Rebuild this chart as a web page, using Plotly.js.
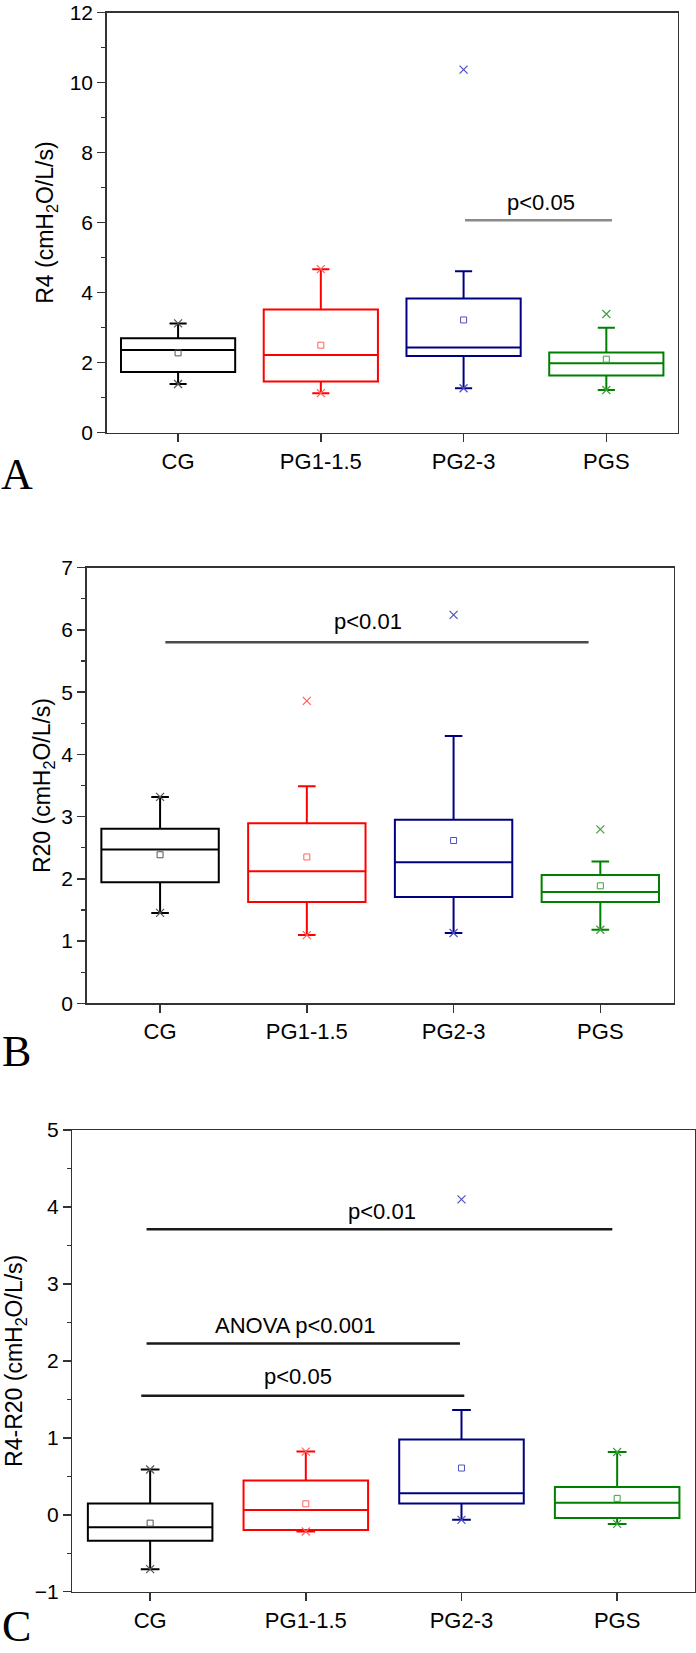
<!DOCTYPE html>
<html>
<head>
<meta charset="utf-8">
<script src="https://cdn.plot.ly/plotly-3.0.1.min.js"></script>
<style>
  html, body { margin: 0; padding: 0; background: #fff; }
  #chart { width: 696px; height: 1653px; }
</style>
</head>
<body>
<div id="chart"></div>
<script>
// ---------------- data ----------------
const categories = ['CG', 'PG1-1.5', 'PG2-3', 'PGS'];
const groupColors = ['#000000', '#ff0000', '#000080', '#008000'];

// Panel A: R4
const A_q1    = [1.73, 1.465, 2.19, 1.635];
const A_med   = [2.36, 2.22, 2.43, 1.98];
const A_q3    = [2.70, 3.52, 3.83, 2.29];
const A_mean  = [2.28, 2.50, 3.22, 2.10];
const A_lo    = [1.39, 1.13, 1.27, 1.22];
const A_hi    = [3.12, 4.67, 4.61, 3.00];
const A_min   = [1.39, 1.13, 1.27, 1.22];
const A_max   = [3.12, 4.67, 10.37, 3.39];

// Panel B: R20
const B_q1    = [1.945, 1.629, 1.710, 1.629];
const B_med   = [2.473, 2.123, 2.266, 1.790];
const B_q3    = [2.806, 2.892, 2.949, 2.060];
const B_mean  = [2.387, 2.352, 2.616, 1.888];
const B_lo    = [1.452, 1.096, 1.130, 1.182];
const B_hi    = [3.316, 3.488, 4.297, 2.278];
const B_min   = [1.452, 1.096, 1.130, 1.182];
const B_max   = [3.316, 4.86, 6.242, 2.794];

// Panel C: R4-R20
const C_q1    = [-0.337, -0.199, 0.147, -0.043];
const C_med   = [-0.161, 0.062, 0.280, 0.157];
const C_q3    = [0.147, 0.446, 0.977, 0.361];
const C_mean  = [-0.109, 0.142, 0.607, 0.213];
const C_lo    = [-0.707, -0.218, -0.066, -0.119];
const C_hi    = [0.588, 0.821, 1.361, 0.816];
const C_min   = [-0.707, -0.218, -0.066, -0.119];
const C_max   = [0.588, 0.821, 4.099, 0.816];

// significance bars: [from group, to group, y level, label, label x, label y]
const A_sig = [[2.01, 3.04, 6.07, 'p<0.05', 2.54, 6.57]];
const B_sig = [[0.036, 2.92, 5.80, 'p<0.01', 1.42, 6.13]];
const C_sig = [
  [-0.023, 2.969, 3.71, 'p<0.01', 1.49, 3.94],
  [-0.023, 1.99, 2.225, 'ANOVA p<0.001', 0.933, 2.46],
  [-0.057, 2.018, 1.546, 'p<0.05', 0.948, 1.80]
];

// ---------------- build ----------------
const FONT = 'Arial, "Liberation Sans", sans-serif';
const traces = [];
const annotations = [];

function lighten(c) {
  const m = {'#000000': '#555555', '#ff0000': '#ff6060', '#000080': '#5050c0', '#008000': '#40a040'};
  return m[c] || c;
}

function addPanel(ax, q1, med, q3, mean, lo, hi, mn, mx, sig, sigColor) {
  const xa = 'x' + ax, ya = 'y' + ax;
  for (let i = 0; i < categories.length; i++) {
    const c = groupColors[i];
    traces.push({
      type: 'box', xaxis: xa, yaxis: ya,
      x: [i], q1: [q1[i]], median: [med[i]], q3: [q3[i]],
      lowerfence: [lo[i]], upperfence: [hi[i]],
      width: 0.8, whiskerwidth: 0.15,
      line: {color: c, width: 2}, fillcolor: 'rgba(0,0,0,0)',
      boxpoints: false, hoverinfo: 'skip', showlegend: false
    });
    traces.push({
      type: 'scatter', mode: 'markers', xaxis: xa, yaxis: ya,
      x: [i, i], y: [mn[i], mx[i]],
      marker: {symbol: 'x-thin-open', size: 8, color: lighten(c), line: {color: lighten(c), width: 1.2}},
      hoverinfo: 'skip', showlegend: false
    });
    traces.push({
      type: 'scatter', mode: 'markers', xaxis: xa, yaxis: ya,
      x: [i], y: [mean[i]],
      marker: {symbol: 'square-open', size: 6, color: lighten(c), line: {color: lighten(c), width: 1}},
      hoverinfo: 'skip', showlegend: false
    });
  }
  sig.forEach(s => {
    traces.push({
      type: 'scatter', mode: 'lines', xaxis: xa, yaxis: ya,
      x: [s[0], s[1]], y: [s[2], s[2]],
      line: {color: sigColor, width: 2.5},
      hoverinfo: 'skip', showlegend: false
    });
    annotations.push({
      xref: xa, yref: ya, x: s[4], y: s[5], text: s[3], showarrow: false,
      xanchor: 'center', yanchor: 'middle',
      font: {family: FONT, size: 22, color: '#000'}
    });
  });
}

addPanel('', A_q1, A_med, A_q3, A_mean, A_lo, A_hi, A_min, A_max, A_sig, '#8a8a8a');
addPanel('2', B_q1, B_med, B_q3, B_mean, B_lo, B_hi, B_min, B_max, B_sig, '#4a4a4a');
addPanel('3', C_q1, C_med, C_q3, C_mean, C_lo, C_hi, C_min, C_max, C_sig, '#1a1a1a');

const W = 696, H = 1653;
function xdom(l, r) { return [l / W, r / W]; }
function ydom(t, b) { return [1 - b / H, 1 - t / H]; }

function xAxis(dom, anchor) {
  return {
    domain: dom, anchor: anchor, range: [-0.5, 3.5],
    tickmode: 'array', tickvals: [0, 1, 2, 3], ticktext: categories,
    ticks: 'outside', ticklen: 8, tickwidth: 1.5, tickcolor: '#333',
    showline: true, mirror: true, linecolor: '#333', linewidth: 1.5,
    showgrid: false, zeroline: false,
    tickfont: {family: FONT, size: 22, color: '#000'}
  };
}
function yAxis(dom, anchor, range, dtick, mdtick, title, standoff) {
  return {
    domain: dom, anchor: anchor, range: range, dtick: dtick, tick0: 0,
    ticks: 'outside', ticklen: 8, tickwidth: 1.5, tickcolor: '#333',
    ticklabeloverflow: 'allow',
    minor: {ticks: 'outside', ticklen: 4, tickwidth: 1.2, tickcolor: '#333', dtick: mdtick, tick0: 0, showgrid: false},
    showline: true, mirror: true, linecolor: '#333', linewidth: 1.5,
    showgrid: false, zeroline: false,
    tickfont: {family: FONT, size: 21, color: '#000'},
    title: {text: title, font: {family: FONT, size: 23, color: '#000'}, standoff: standoff}
  };
}

const letterFont = {family: '"Liberation Serif", "Times New Roman", serif', size: 44, color: '#000'};
annotations.push({xref: 'paper', yref: 'paper', x: 17 / W, y: 1 - 475 / H, text: 'A', showarrow: false, xanchor: 'center', yanchor: 'middle', font: letterFont});
annotations.push({xref: 'paper', yref: 'paper', x: 16 / W, y: 1 - 1051 / H, text: 'B', showarrow: false, xanchor: 'center', yanchor: 'middle', font: letterFont});
annotations.push({xref: 'paper', yref: 'paper', x: 16 / W, y: 0, text: 'C', showarrow: false, xanchor: 'center', yanchor: 'bottom', font: letterFont});

const layout = {
  width: W, height: H,
  margin: {l: 0, r: 0, t: 0, b: 0},
  paper_bgcolor: '#fff', plot_bgcolor: '#fff',
  showlegend: false, hovermode: false,
  boxmode: 'overlay',
  xaxis:  xAxis(xdom(106.7, 677.7), 'y'),
  yaxis:  yAxis(ydom(12.5, 432.7), 'x', [0, 12], 2, 1, 'R4 (cmH<sub>2</sub>O/L/s)', 9),
  xaxis2: xAxis(xdom(86.7, 673.7), 'y2'),
  yaxis2: yAxis(ydom(567.7, 1003.3), 'x2', [0, 7], 1, 0.5, 'R20 (cmH<sub>2</sub>O/L/s)', 4),
  xaxis3: xAxis(xdom(72.3, 695), 'y3'),
  yaxis3: yAxis(ydom(1130, 1591.7), 'x3', [-1, 5], 1, 0.5, 'R4-R20 (cmH<sub>2</sub>O/L/s)', 5),
  annotations: annotations
};

Plotly.newPlot('chart', traces, layout, {staticPlot: true, displayModeBar: false});
</script>
</body>
</html>
